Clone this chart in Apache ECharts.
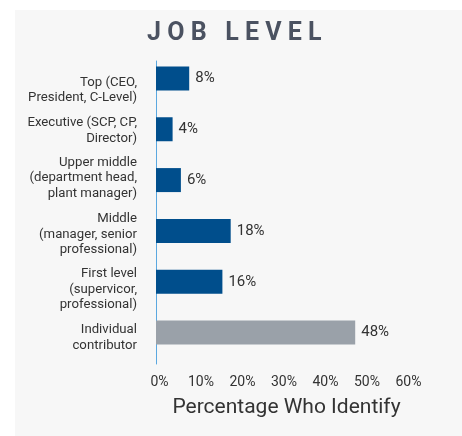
<!DOCTYPE html>
<html>
<head>
<meta charset="utf-8">
<script src="https://cdn.jsdelivr.net/npm/echarts@6/dist/echarts.min.js"></script>
<style>
html,body{margin:0;padding:0;background:#ffffff;}
#chart{width:462px;height:436px;}
</style>
</head>
<body>
<div id="chart"></div>
<script>
var categories = [
  'Top (CEO,\nPresident, C-Level)',
  'Executive (SCP, CP,\nDirector)',
  'Upper middle\n(department head,\nplant manager)',
  'Middle\n(manager, senior\nprofessional)',
  'First level\n(supervicor,\nprofessional)',
  'Individual\ncontributor'
];
var values = [8, 4, 6, 18, 16, 48];
var xTicks = [0, 10, 20, 30, 40, 50, 60];

// styling (not data): bar colours and per-label vertical nudges as in the reference
var barColors = ['#004e8c', '#004e8c', '#004e8c', '#004e8c', '#004e8c', '#9aa1a9'];
var labelNudge = [12, 1.5, -2, 3.5, 7.5, 5];

var rich = {};
labelNudge.forEach(function (d, i) {
  if (d !== 0) {
    rich['g' + i] = {fontSize: 1, lineHeight: Math.abs(d) * 2, height: Math.abs(d) * 2};
  }
});

var chart = echarts.init(document.getElementById('chart'), null, {renderer: 'canvas'});
chart.setOption({
  animation: false,
  backgroundColor: '#ffffff',
  graphic: [{
    type: 'rect',
    z: -10,
    silent: true,
    shape: {x: 15, y: 10, width: 447, height: 426},
    style: {fill: '#f7f7f7'}
  }],
  title: {
    text: 'J O B   L E V E L',
    left: 147,
    top: 21,
    padding: 0,
    textStyle: {fontFamily: 'Roboto', fontWeight: 'bold', fontSize: 25, color: '#4b5261'}
  },
  grid: [
    {left: 156, top: 53, width: 249, height: 305, containLabel: false},
    {left: 156, top: 61, width: 249, height: 303, containLabel: false}
  ],
  xAxis: [{
    type: 'value',
    gridIndex: 0,
    min: xTicks[0],
    max: xTicks[xTicks.length - 1],
    interval: 10,
    axisLine: {show: false},
    axisTick: {show: false},
    splitLine: {show: false},
    axisLabel: {
      formatter: '{value}%',
      margin: 17,
      padding: [0, 0, 0, 7],
      fontFamily: 'Roboto',
      fontSize: 14,
      color: '#333333'
    },
    name: 'Percentage Who Identify',
    nameLocation: 'middle',
    nameGap: 39,
    nameTextStyle: {fontFamily: 'Roboto', fontSize: 21, color: '#333333', padding: [0, 0, 0, 12]}
  }, {
    type: 'value',
    gridIndex: 1,
    show: false,
    min: 0,
    max: 60
  }],
  yAxis: [{
    type: 'category',
    gridIndex: 0,
    inverse: true,
    data: categories,
    axisLine: {show: false},
    axisTick: {show: false},
    axisLabel: {
      interval: 0,
      hideOverlap: false,
      margin: 19,
      fontFamily: 'Roboto',
      fontSize: 13.2,
      lineHeight: 15.5,
      color: '#333333',
      align: 'right',
      rich: rich,
      formatter: function (value, idx) {
        var d = labelNudge[idx];
        if (d > 0) { return '{g' + idx + '| }\n' + value; }
        if (d < 0) { return value + '\n{g' + idx + '| }'; }
        return value;
      }
    }
  }, {
    type: 'value',
    gridIndex: 1,
    min: 0,
    max: 1,
    axisLine: {show: true, onZero: false, lineStyle: {color: '#5ba8e0', width: 1}},
    axisTick: {show: false},
    axisLabel: {show: false},
    splitLine: {show: false}
  }],
  series: [{
    type: 'bar',
    xAxisIndex: 0,
    yAxisIndex: 0,
    data: values.map(function (v, i) { return {value: v, itemStyle: {color: barColors[i]}}; }),
    barWidth: 24,
    label: {
      show: true,
      position: 'right',
      distance: 6,
      formatter: '{c}%',
      fontFamily: 'Roboto',
      fontSize: 15,
      color: '#333333'
    }
  }]
});
</script>
</body>
</html>
